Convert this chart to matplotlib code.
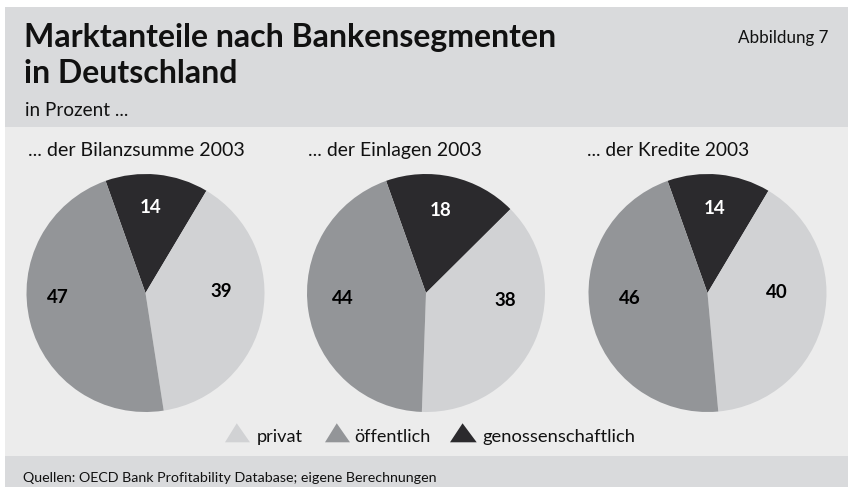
import matplotlib
matplotlib.use("Agg")
import matplotlib.pyplot as plt
from matplotlib.patches import Rectangle, Polygon

# ---------------- data ----------------
categories = ["privat", "öffentlich", "genossenschaftlich"]
pie_titles = ["... der Bilanzsumme 2003", "... der Einlagen 2003", "... der Kredite 2003"]
privat = [39, 38, 40]
oeffentlich = [47, 44, 46]
genossenschaftlich = [14, 18, 14]

title_lines = ["Marktanteile nach Bankensegmenten", "in Deutschland"]
subtitle = "in Prozent ..."
figure_no = "Abbildung 7"
source = "Quellen: OECD Bank Profitability Database; eigene Berechnungen"

# ---------------- style / layout ----------------
W, H = 848, 487
FONT = "Lato"
C_HEAD = "#d9dadc"
C_BODY = "#ececec"
C_LIGHT = "#d1d2d4"
C_MED = "#939598"
C_DARK = "#2b2a2d"
colors = {"privat": C_LIGHT, "öffentlich": C_MED, "genossenschaftlich": C_DARK}

pie_centers_px = [(145.5, 293), (426, 293), (707.5, 293)]
R_PX = 119
START = 109.6
# label positions relative to radius (privat, öffentlich, genossenschaftlich)
label_pos = [
    [(0.64, 0.015), (-0.74, -0.04), (0.044, 0.72)],
    [(0.67, -0.065), (-0.70, -0.045), (0.12, 0.69)],
    [(0.58, 0.006), (-0.65, -0.05), (0.057, 0.71)],
]

fig = plt.figure(figsize=(W / 100, H / 100), dpi=100)
fig.patch.set_facecolor("white")
renderer = fig.canvas.get_renderer()


def fx(x):
    return x / W


def fy(y):
    return 1 - y / H


def rect(x0, y0, x1, y1, c):
    fig.add_artist(Rectangle((fx(x0), fy(y1)), (x1 - x0) / W, (y1 - y0) / H,
                             transform=fig.transFigure, facecolor=c,
                             edgecolor="none", zorder=0))


rect(5, 7, W, 127, C_HEAD)
rect(5, 127, W, 456, C_BODY)
rect(5, 456, W, H, C_HEAD)


def fit_text(x, y, s, target_w, size, **kw):
    t = fig.text(fx(x), fy(y), s, fontsize=size, family=FONT,
                 va="baseline", ha="left", **kw)
    w = t.get_window_extent(renderer).width
    t.set_fontsize(size * target_w / w)
    return t


t1 = fit_text(24, 46.7, title_lines[0], 534, 23, weight="bold", color="#111111")
fig.text(fx(24), fy(82.7), title_lines[1], fontsize=t1.get_fontsize(), family=FONT,
         weight="bold", va="baseline", ha="left", color="#111111")
fit_text(25, 116, subtitle, 103, 14, color="#111111")
fit_text(738, 42.7, figure_no, 90, 13, color="#111111")
fit_text(23, 481.5, source, 416, 11.5, color="#111111")

sub_pos = [(28, 245), (308.3, 482.7), (587.3, 750)]
for (x0, x1), s in zip(sub_pos, pie_titles):
    fit_text(x0, 156, s, x1 - x0, 14, color="#111111")

# ---------------- pies ----------------
for i, (cx, cy) in enumerate(pie_centers_px):
    ax = fig.add_axes([fx(cx - R_PX), fy(cy + R_PX), 2 * R_PX / W, 2 * R_PX / H])
    vals = [genossenschaftlich[i], privat[i], oeffentlich[i]]
    cols = [C_DARK, C_LIGHT, C_MED]
    ax.pie(vals, colors=cols, startangle=START, counterclock=False,
           radius=1, wedgeprops=dict(linewidth=0))
    ax.set_xlim(-1, 1)
    ax.set_ylim(-1, 1)
    ax.set_aspect("equal")
    ax.axis("off")
    series = [privat[i], oeffentlich[i], genossenschaftlich[i]]
    for j, v in enumerate(series):
        dx, dy = label_pos[i][j]
        ax.text(dx, dy, str(v), ha="center", va="center", family=FONT,
                weight="bold", fontsize=13.5,
                color="white" if j == 2 else "black")

# ---------------- legend ----------------
leg_items = [(225, 250, 256.7), (325, 350, 354), (450, 476.7, 482.7)]
for (x0, x1, tx), cat in zip(leg_items, categories):
    apex = x0 + 0.47 * (x1 - x0)
    tri = Polygon([(fx(x0), fy(442.3)), (fx(x1), fy(442.3)), (fx(apex), fy(423.3))],
                  closed=True, transform=fig.transFigure, facecolor=colors[cat],
                  edgecolor="none")
    fig.add_artist(tri)
leg_text_w = [46, 76, 152.3]
for (x0, x1, tx), cat, w in zip(leg_items, categories, leg_text_w):
    fit_text(tx, 441.7, cat, w, 13, color="#111111")

fig.savefig("out.png", dpi=100)
